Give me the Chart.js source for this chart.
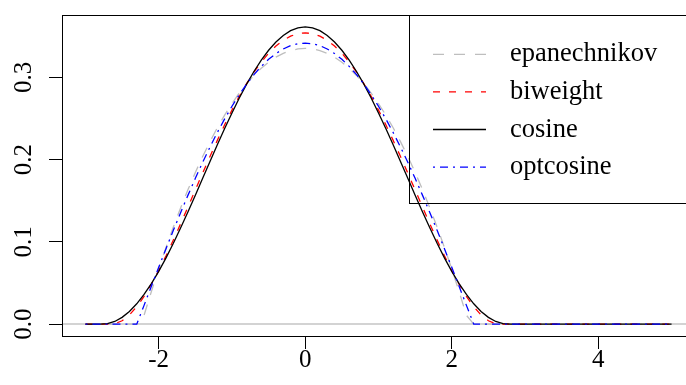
<!DOCTYPE html>
<html>
<head>
<meta charset="utf-8">
<script src="https://cdn.jsdelivr.net/npm/chart.js@4"></script>
<style>
  html, body { margin: 0; padding: 0; background: #fff; overflow: hidden; width: 686px; height: 385px; }
  canvas { display: block; }
</style>
</head>
<body>
<canvas id="kernels" width="720" height="385"></canvas>
<script>
// Grid of x positions shared by all the density curves
const xs = [-3, -2.9, -2.8, -2.7, -2.6, -2.5, -2.4, -2.3, -2.2, -2.1,
  -2, -1.9, -1.8, -1.7, -1.6, -1.5, -1.4, -1.3, -1.2, -1.1,
  -1, -0.9, -0.8, -0.7, -0.6, -0.5, -0.4, -0.3, -0.2, -0.1,
  0,
  0.1, 0.2, 0.3, 0.4, 0.5, 0.6, 0.7, 0.8, 0.9, 1,
  1.1, 1.2, 1.3, 1.4, 1.5, 1.6, 1.7, 1.8, 1.9, 2,
  2.1, 2.2, 2.3, 2.4, 2.5, 2.6, 2.7, 2.8, 2.9, 3,
  5];

const epanechnikov = [0, 0, 0, 0, 0, 0, 0, 0,
  0.0107, 0.0396, 0.0671, 0.0932, 0.1181, 0.1415, 0.1637, 0.1845, 0.2039, 0.2220, 0.2388, 0.2542,
  0.2683, 0.2811, 0.2925, 0.3025, 0.3113, 0.3186, 0.3247, 0.3294, 0.3327, 0.3347,
  0.3354,
  0.3347, 0.3327, 0.3294, 0.3247, 0.3186, 0.3113, 0.3025, 0.2925, 0.2811, 0.2683,
  0.2542, 0.2388, 0.2220, 0.2039, 0.1845, 0.1637, 0.1415, 0.1181, 0.0932, 0.0671,
  0.0396, 0.0107, 0, 0, 0, 0, 0, 0, 0, 0,
  0];

const biweight = [0, 0, 0, 0,
  0.0004, 0.0041, 0.0111, 0.0211, 0.0337, 0.0485, 0.0651, 0.0831, 0.1022, 0.1222, 0.1426, 0.1632,
  0.1837, 0.2039, 0.2235, 0.2424, 0.2603, 0.2771, 0.2925, 0.3065, 0.3188, 0.3295, 0.3383, 0.3453,
  0.3503, 0.3533,
  0.3543,
  0.3533, 0.3503, 0.3453, 0.3383, 0.3295, 0.3188, 0.3065, 0.2925, 0.2771, 0.2603,
  0.2424, 0.2235, 0.2039, 0.1837, 0.1632, 0.1426, 0.1222, 0.1022, 0.0831, 0.0651,
  0.0485, 0.0337, 0.0211, 0.0111, 0.0041, 0.0004, 0, 0, 0, 0,
  0];

const cosine = [0, 0, 0,
  0.0005, 0.0032, 0.0082, 0.0154, 0.0247, 0.0361, 0.0493, 0.0642, 0.0806, 0.0983, 0.1171, 0.1367,
  0.1568, 0.1773, 0.1978, 0.2181, 0.2379, 0.2569, 0.2750, 0.2919, 0.3073, 0.3211, 0.3331, 0.3432,
  0.3511, 0.3569, 0.3603,
  0.3615,
  0.3603, 0.3569, 0.3511, 0.3432, 0.3331, 0.3211, 0.3073, 0.2919, 0.2750, 0.2569,
  0.2379, 0.2181, 0.1978, 0.1773, 0.1568, 0.1367, 0.1171, 0.0983, 0.0806, 0.0642,
  0.0493, 0.0361, 0.0247, 0.0154, 0.0082, 0.0032, 0.0005, 0, 0, 0,
  0];

const optcosine = [0, 0, 0, 0, 0, 0, 0, 0,
  0.0228, 0.0460, 0.0691, 0.0918, 0.1141, 0.1358, 0.1569, 0.1773, 0.1969, 0.2154, 0.2331, 0.2496,
  0.2650, 0.2791, 0.2920, 0.3034, 0.3135, 0.3221, 0.3291, 0.3347, 0.3387, 0.3410,
  0.3418,
  0.3410, 0.3387, 0.3347, 0.3291, 0.3221, 0.3135, 0.3034, 0.2920, 0.2791, 0.2650,
  0.2496, 0.2331, 0.2154, 0.1969, 0.1773, 0.1569, 0.1358, 0.1141, 0.0918, 0.0691,
  0.0460, 0.0228, 0, 0, 0, 0, 0, 0, 0, 0,
  0];

const kernelNames = ['epanechnikov', 'biweight', 'cosine', 'optcosine'];
const xTicks = [-2, 0, 2, 4];
const yTicks = [0, 0.1, 0.2, 0.3];
const yTickLabels = ['0.0', '0.1', '0.2', '0.3'];

const series = [epanechnikov, biweight, cosine, optcosine];
const colors = ['#bebebe', '#ff0000', '#000000', '#0000ff'];
const dashes = [[11, 10], [7, 9], [], [2, 5, 8, 5]];
const FONT = '"Liberation Serif", "Times New Roman", serif';

// frame, zero line, rotated y labels and legend in the style of base R graphics
const rFrame = {
  id: 'rFrame',
  beforeDatasetsDraw(chart) {
    const { ctx, chartArea: a, scales } = chart;
    const y0 = Math.round(scales.y.getPixelForValue(0));
    ctx.save();
    ctx.strokeStyle = '#d3d3d3';
    ctx.lineWidth = 2;
    ctx.beginPath();
    ctx.moveTo(a.left, y0);
    ctx.lineTo(a.right, y0);
    ctx.stroke();
    ctx.restore();
  },
  afterDraw(chart) {
    const { ctx, chartArea: a, scales } = chart;
    ctx.save();
    ctx.strokeStyle = '#000';
    ctx.lineWidth = 1;
    ctx.strokeRect(Math.round(a.left) + 0.5, Math.round(a.top) + 0.5,
      Math.round(a.right - a.left), Math.round(a.bottom - a.top));

    // y tick labels, rotated like R's las = 0
    ctx.fillStyle = '#000';
    ctx.font = '25px ' + FONT;
    ctx.textAlign = 'center';
    ctx.textBaseline = 'alphabetic';
    yTicks.forEach((v, i) => {
      const py = scales.y.getPixelForValue(v);
      ctx.save();
      ctx.translate(31, py);
      ctx.rotate(-Math.PI / 2);
      ctx.fillText(yTickLabels[i], 0, 0);
      ctx.restore();
    });

    // legend box in the top right corner
    const lx = 409.5, ly = Math.round(a.top) + 0.5, lb = 203.5;
    ctx.strokeRect(lx, ly, a.right - lx + 5, lb - ly);
    ctx.font = '26.5px ' + FONT;
    ctx.textAlign = 'left';
    ctx.textBaseline = 'alphabetic';
    kernelNames.forEach((name, i) => {
      const ry = 54.3 + i * 37.6;
      ctx.strokeStyle = colors[i];
      ctx.lineWidth = 1.3;
      ctx.setLineDash(dashes[i]);
      ctx.beginPath();
      ctx.moveTo(433, ry);
      ctx.lineTo(486, ry);
      ctx.stroke();
      ctx.setLineDash([]);
      ctx.fillText(name, 510, ry + 7);
    });
    ctx.restore();
  }
};

new Chart(document.getElementById('kernels'), {
  type: 'line',
  data: {
    datasets: series.map((vals, i) => ({
      label: kernelNames[i],
      data: xs.map((x, j) => ({ x: x, y: vals[j] })),
      borderColor: colors[i],
      borderWidth: 1.3,
      borderDash: dashes[i],
      pointRadius: 0,
      tension: 0,
      fill: false,
      order: series.length - i
    }))
  },
  options: {
    responsive: false,
    animation: false,
    events: [],
    layout: { padding: { top: 15, right: 25, left: 0, bottom: 0 } },
    plugins: { legend: { display: false }, tooltip: { enabled: false } },
    scales: {
      x: {
        type: 'linear',
        min: -3.32,
        max: 5.32,
        afterBuildTicks: s => { s.ticks = xTicks.map(v => ({ value: v })); },
        afterFit: s => { s.height = 49; },
        border: { display: false },
        grid: { drawOnChartArea: false, drawTicks: true, tickLength: 13, color: '#000', lineWidth: 1 },
        ticks: {
          color: '#000',
          font: { family: FONT, size: 25 },
          padding: -4,
          maxRotation: 0,
          autoSkip: false,
          callback: v => String(v)
        }
      },
      y: {
        type: 'linear',
        min: -0.01446,
        max: 0.376,
        afterBuildTicks: s => { s.ticks = yTicks.map(v => ({ value: v })); },
        afterFit: s => { s.width = 62; },
        border: { display: false },
        grid: { drawOnChartArea: false, drawTicks: true, tickLength: 13, color: '#000', lineWidth: 1 },
        ticks: { display: false }
      }
    }
  },
  plugins: [rFrame]
});
</script>
</body>
</html>
